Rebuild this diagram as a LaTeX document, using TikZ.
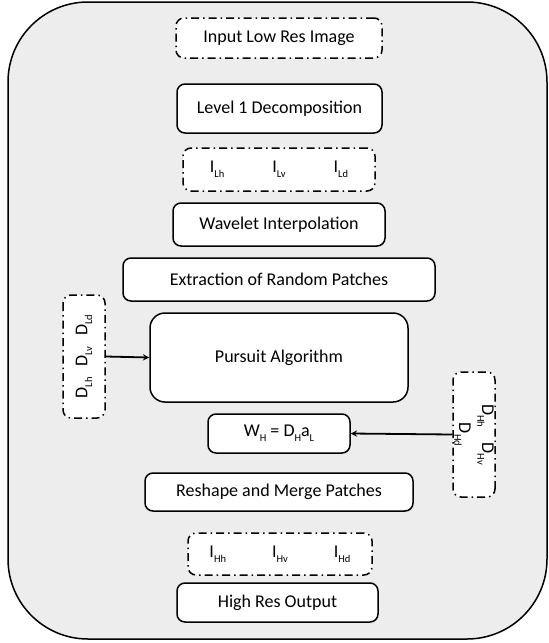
\documentclass[tikz,border=0pt]{standalone}
\usepackage{fontspec}
\setmainfont{Carlito}
\usepackage{xcolor}
\usetikzlibrary{shapes,calc,arrows,positioning}
\definecolor{panel}{HTML}{EDEDED}
\newcommand{\lowsub}[1]{\raisebox{-0.55ex}{\fontsize{10.5}{12}\selectfont #1}}
\tikzset{
  stepbox/.style={draw, fill=white, rounded corners=8pt, line width=1.5pt, inner sep=0pt, align=center, font=\fontsize{18}{23}\selectfont},
  databox/.style={stepbox, dash pattern=on 8pt off 4pt on 1.5pt off 4pt},
  link/.style={->, >=stealth, line width=1.8pt}
}

\begin{document}
\begin{tikzpicture}[x=1pt, y=-1pt]
  \useasboundingbox (0,0) rectangle (549,643);
  \draw[fill=panel, line width=1.5pt, rounded corners=80pt] (8,2) rectangle (547,639);
  % main chain
  \node[databox, minimum width=206pt, minimum height=40pt] (input) at (279,38) {Input Low Res Image};
  \node[stepbox, minimum width=205pt, minimum height=49pt] (decomp) at (279.5,108.5) {Level 1 Decomposition};
  \node[databox, minimum width=192pt, minimum height=43pt] (ilow) at (279,169.5)
    {I\lowsub{Lh}\hspace{48pt}I\lowsub{Lv}\hspace{48pt}I\lowsub{Ld}};
  \node[stepbox, minimum width=212pt, minimum height=43pt] (interp) at (279,224.5) {Wavelet Interpolation};
  \node[stepbox, minimum width=312pt, minimum height=43pt] (extract) at (279,279.5) {Extraction of Random Patches};
  \node[stepbox, rounded corners=15pt, minimum width=258pt, minimum height=89pt] (pursuit) at (279,357.5) {Pursuit Algorithm};
  \node[stepbox, minimum width=142pt, minimum height=39pt] (whigh) at (279,433.5) {W\lowsub{H} = D\lowsub{H}a\lowsub{L}};
  \node[stepbox, minimum width=268pt, minimum height=38pt] (merge) at (279,492) {Reshape and Merge Patches};
  \node[databox, minimum width=184pt, minimum height=42pt] (ihigh) at (280,554)
    {I\lowsub{Hh}\hspace{46pt}I\lowsub{Hv}\hspace{46pt}I\lowsub{Hd}};
  \node[stepbox, minimum width=201pt, minimum height=39pt] (output) at (277.5,602.5) {High Res Output};
  % dictionaries
  \node[databox, rotate=90, minimum width=123pt, minimum height=42pt] (dlow) at (84,356.5)
    {D\lowsub{Lh}\hspace{11pt}D\lowsub{Lv}\hspace{11pt}D\lowsub{Ld}};
  \node[databox, rotate=-90, minimum width=125pt, minimum height=42pt] (dhigh) at (474,434.5)
    {D\lowsub{Hh}\hspace{15pt}D\lowsub{Hv}\\D\lowsub{Hd}};
  \draw[link] (dlow.south) -- (pursuit.west);
  \draw[link] (dhigh.south) -- (whigh.east);
\end{tikzpicture}
\end{document}
